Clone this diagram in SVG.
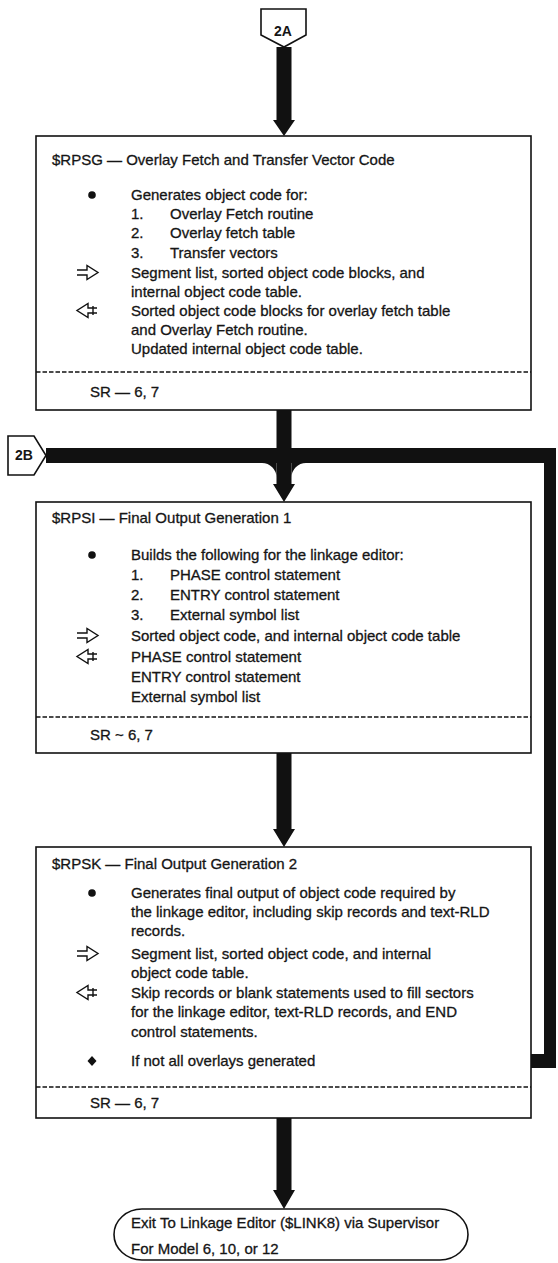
<svg xmlns="http://www.w3.org/2000/svg" width="558" height="1263" viewBox="0 0 558 1263">
<defs>
<style>
.box{fill:#fff;stroke:#111;stroke-width:1.6}
.dash{stroke:#111;stroke-width:1.3;stroke-dasharray:4.5 2;fill:none}
.t{font-family:"Liberation Sans",Arial,sans-serif;font-size:15px;fill:#151515;stroke:#151515;stroke-width:0.3}
.c{font-family:"Liberation Sans",Arial,sans-serif;font-size:14px;font-weight:bold;fill:#151515;text-anchor:middle}
.thick{fill:#111}
.sym{fill:none;stroke:#111;stroke-width:1.4;stroke-linejoin:miter}
.off{fill:#fff;stroke:#111;stroke-width:1.6}
</style>
<path id="inSym" class="sym" d="M77,-3 H87 V-7.5 L98,-0.5 L87,6.5 V2 H77"/>
<path id="outSym" class="sym" d="M97,-3 H88 V-7.5 L77,-0.5 L88,6.5 V2 H97 M93,-5 V4"/>
</defs>
<rect width="558" height="1263" fill="#fff"/>

<g id="connectors">
<path class="thick" d="M276.5,47 H291.5 V120 H295 L284,136 L273,120 H276.5 Z"/>
<path class="thick" d="M276.5,410 H291.5 V484 H295 L284,502 L273,484 H276.5 Z"/>
<rect class="thick" x="46" y="448" width="510" height="15"/>
<path class="thick" d="M262,463 A14.5,14.5 0 0 1 276.5,477.5 L276.5,463 Z"/>
<path class="thick" d="M306,463 A14.5,14.5 0 0 0 291.5,477.5 L291.5,463 Z"/>
<rect class="thick" x="544" y="448" width="12" height="620"/>
<rect class="thick" x="325" y="1054" width="231" height="14"/>
<path class="thick" d="M276.5,753 H291.5 V829 H295 L284,847 L273,829 H276.5 Z"/>
<path class="thick" d="M276.5,1118 H291.5 V1190 H295 L284,1209 L273,1190 H276.5 Z"/>
</g>

<g id="off2A">
<polygon class="off" points="261,9 306,9 306,35 284,47 261,35"/>
<text class="c" x="283" y="36">2A</text>
</g>

<g id="off2B">
<polygon class="off" points="8,436 34,436 46,455.5 34,475 8,475"/>
<text class="c" x="24" y="460">2B</text>
</g>

<g id="rpsg">
<rect class="box" x="36" y="136" width="495" height="274"/>
<text class="t" x="52" y="165">$RPSG — Overlay Fetch and Transfer Vector Code</text>
<circle cx="92" cy="195" r="3.8" fill="#111"/>
<text class="t" x="131" y="200">Generates object code for:</text>
<text class="t" x="131" y="219">1.</text><text class="t" x="170" y="219">Overlay Fetch routine</text>
<text class="t" x="131" y="238">2.</text><text class="t" x="170" y="238">Overlay fetch table</text>
<text class="t" x="131" y="258">3.</text><text class="t" x="170" y="258">Transfer vectors</text>
<use href="#inSym" y="273"/>
<text class="t" x="131" y="278">Segment list, sorted object code blocks, and</text>
<text class="t" x="131" y="297">internal object code table.</text>
<use href="#outSym" y="311"/>
<text class="t" x="131" y="316">Sorted object code blocks for overlay fetch table</text>
<text class="t" x="131" y="335">and Overlay Fetch routine.</text>
<text class="t" x="131" y="354">Updated internal object code table.</text>
<line class="dash" x1="36" y1="372" x2="531" y2="372"/>
<text class="t" x="90" y="397">SR — 6, 7</text>
</g>

<g id="rpsi">
<rect class="box" x="36" y="502" width="495" height="251"/>
<text class="t" x="52" y="523">$RPSI — Final Output Generation 1</text>
<circle cx="92" cy="555" r="3.8" fill="#111"/>
<text class="t" x="131" y="560">Builds the following for the linkage editor:</text>
<text class="t" x="131" y="580">1.</text><text class="t" x="170" y="580">PHASE control statement</text>
<text class="t" x="131" y="600">2.</text><text class="t" x="170" y="600">ENTRY control statement</text>
<text class="t" x="131" y="620">3.</text><text class="t" x="170" y="620">External symbol list</text>
<use href="#inSym" y="636"/>
<text class="t" x="131" y="641">Sorted object code, and internal object code table</text>
<use href="#outSym" y="657"/>
<text class="t" x="131" y="662">PHASE control statement</text>
<text class="t" x="131" y="682">ENTRY control statement</text>
<text class="t" x="131" y="702">External symbol list</text>
<line class="dash" x1="36" y1="717" x2="531" y2="717"/>
<text class="t" x="90" y="740">SR ~ 6, 7</text>
</g>

<g id="rpsk">
<rect class="box" x="36" y="847" width="495" height="271"/>
<text class="t" x="52" y="869">$RPSK — Final Output Generation 2</text>
<circle cx="92" cy="893" r="3.8" fill="#111"/>
<text class="t" x="131" y="898">Generates final output of object code required by</text>
<text class="t" x="131" y="917">the linkage editor, including skip records and text-RLD</text>
<text class="t" x="131" y="936">records.</text>
<use href="#inSym" y="954"/>
<text class="t" x="131" y="959">Segment list, sorted object code, and internal</text>
<text class="t" x="131" y="978">object code table.</text>
<use href="#outSym" y="993"/>
<text class="t" x="131" y="998">Skip records or blank statements used to fill sectors</text>
<text class="t" x="131" y="1017">for the linkage editor, text-RLD records, and END</text>
<text class="t" x="131" y="1037">control statements.</text>
<polygon points="92,1056 96.5,1061 92,1066 87.5,1061" fill="#111"/>
<text class="t" x="131" y="1066">If not all overlays generated</text>
<line class="dash" x1="36" y1="1087" x2="531" y2="1087"/>
<text class="t" x="90" y="1108">SR — 6, 7</text>
</g>

<g id="exit">
<path class="box" d="M142,1209 H440 A28,25.5 0 0 1 440,1260 H142 A28,25.5 0 0 1 142,1209 Z"/>
<text class="t" x="131" y="1228">Exit To Linkage Editor ($LINK8) via Supervisor</text>
<text class="t" x="131" y="1254">For Model 6, 10, or 12</text>
</g>
</svg>
